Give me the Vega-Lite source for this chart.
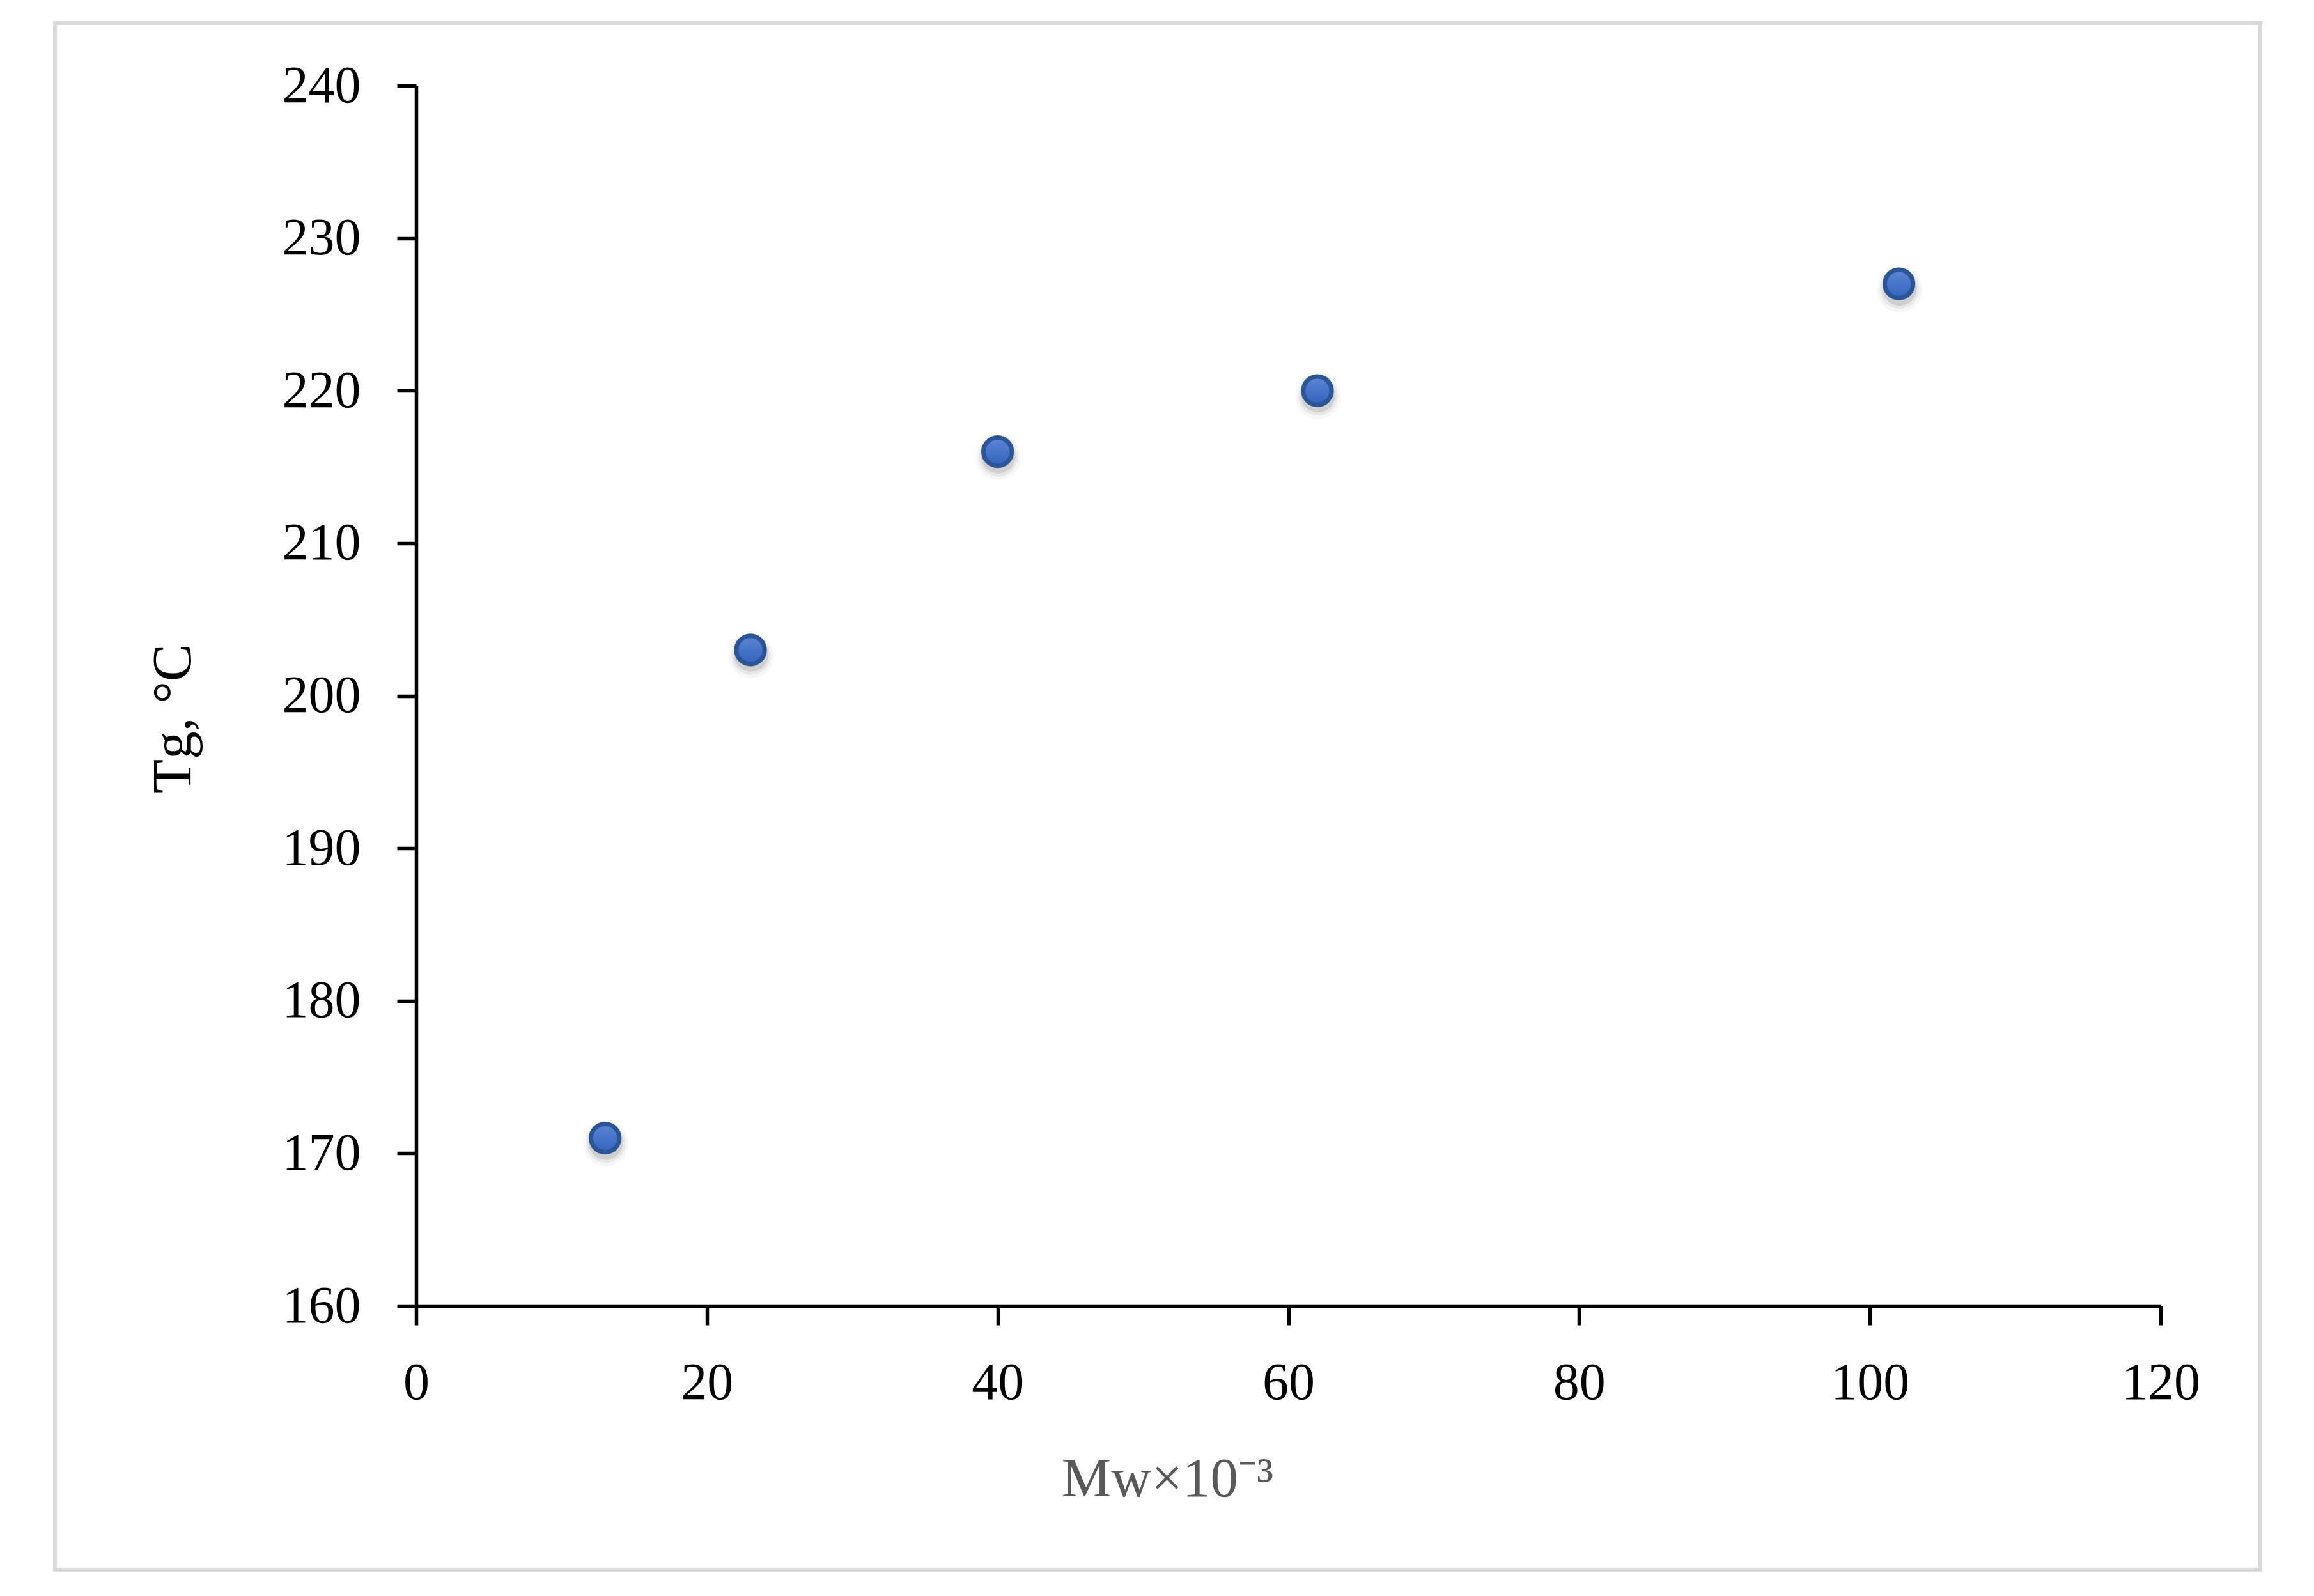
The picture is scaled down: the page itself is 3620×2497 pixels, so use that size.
{
  "$schema": "https://vega.github.io/schema/vega-lite/v6.json",
  "autosize": "none",
  "width": 3450,
  "height": 2420,
  "padding": {"left": 86, "top": 36, "right": 84, "bottom": 41},
  "background": "white",
  "config": {
    "view": {"stroke": "#d9d9d9", "strokeWidth": 6, "fill": "white"},
    "font": "Liberation Serif"
  },
  "data": {
    "values": [
      {"Mw": 13, "Tg": 171},
      {"Mw": 23, "Tg": 203},
      {"Mw": 40, "Tg": 216},
      {"Mw": 62, "Tg": 220},
      {"Mw": 102, "Tg": 227}
    ]
  },
  "encoding": {
    "x": {
      "field": "Mw",
      "type": "quantitative",
      "scale": {"domain": [0, 120], "range": [565, 3294], "nice": false, "zero": false},
      "axis": {
        "title": "Mw×10⁻³",
        "values": [0, 20, 40, 60, 80, 100, 120],
        "grid": false,
        "offset": -413,
        "domainColor": "black",
        "domainWidth": 5.5,
        "tickColor": "black",
        "tickWidth": 5.5,
        "tickSize": 30,
        "labelFont": "Liberation Serif",
        "labelFontSize": 82,
        "labelColor": "black",
        "labelPadding": 50,
        "labelFlush": false,
        "labelOverlap": false,
        "titleFont": "Liberation Serif",
        "titleFontSize": 87,
        "titleFontWeight": "normal",
        "titleColor": "#595959",
        "titleX": 1740,
        "titleY": 297,
        "titleAlign": "center",
        "titleBaseline": "alphabetic"
      }
    },
    "y": {
      "field": "Tg",
      "type": "quantitative",
      "scale": {"domain": [160, 240], "range": [2007, 98], "nice": false, "zero": false},
      "axis": {
        "title": "Tg, °C",
        "values": [160, 170, 180, 190, 200, 210, 220, 230, 240],
        "grid": false,
        "offset": -565,
        "domainColor": "black",
        "domainWidth": 5.5,
        "tickColor": "black",
        "tickWidth": 5.5,
        "tickSize": 30,
        "labelFont": "Liberation Serif",
        "labelFontSize": 82,
        "labelColor": "black",
        "labelPadding": 57,
        "labelFlush": false,
        "labelOverlap": false,
        "titleFont": "Liberation Serif",
        "titleFontSize": 87,
        "titleFontWeight": "normal",
        "titleColor": "black",
        "titleAngle": -90,
        "titleX": -354,
        "titleY": 1088,
        "titleAlign": "center",
        "titleBaseline": "alphabetic"
      }
    }
  },
  "layer": [
    {
      "mark": {"type": "point", "shape": "circle", "filled": true, "size": 5000, "color": "black", "opacity": 0.035, "strokeWidth": 0, "yOffset": 9, "xOffset": 1}
    },
    {
      "mark": {"type": "point", "shape": "circle", "filled": true, "size": 3800, "color": "black", "opacity": 0.06, "strokeWidth": 0, "yOffset": 8, "xOffset": 1}
    },
    {
      "mark": {"type": "point", "shape": "circle", "filled": true, "size": 2900, "color": "black", "opacity": 0.1, "strokeWidth": 0, "yOffset": 7, "xOffset": 1}
    },
    {
      "mark": {
        "type": "point",
        "shape": "circle",
        "filled": true,
        "size": 1960,
        "opacity": 1,
        "fill": {
          "gradient": "linear",
          "x1": 0, "y1": 0, "x2": 0, "y2": 1,
          "stops": [
            {"offset": 0, "color": "#5c86d4"},
            {"offset": 1, "color": "#3263bd"}
          ]
        },
        "stroke": "#2c5596",
        "strokeWidth": 7
      }
    }
  ]
}
